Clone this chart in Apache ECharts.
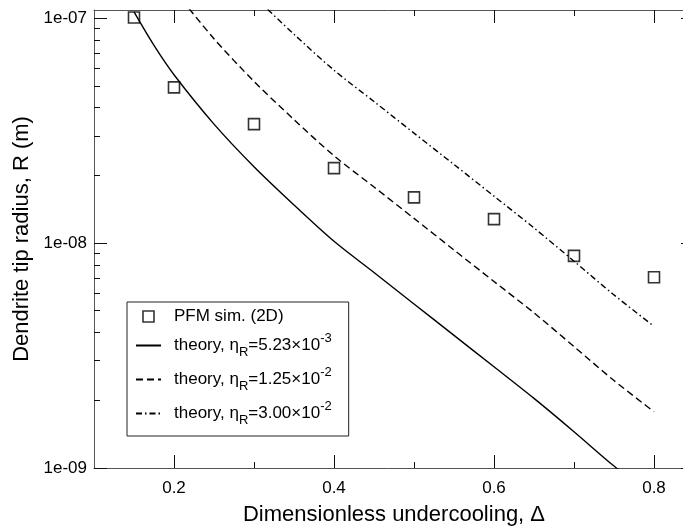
<!DOCTYPE html>
<html>
<head>
<meta charset="utf-8">
<script src="https://cdn.jsdelivr.net/npm/echarts@6/dist/echarts.min.js"></script>
<style>
  html, body { margin: 0; padding: 0; background: #fff; }
  #chart { width: 683px; height: 529px; }
</style>
</head>
<body>
<div id="chart"></div>
<script>
// PFM 模拟点
const deltaSim = [0.15, 0.2, 0.3, 0.4, 0.5, 0.6, 0.7, 0.8];
const radiusSim = [1.01e-7, 4.94e-8, 3.39e-8, 2.16e-8, 1.60e-8, 1.28e-8, 8.79e-9, 7.06e-9];

// 理论曲线
const deltaTheory = [0.15, 0.175, 0.2, 0.25, 0.3, 0.35, 0.4, 0.45, 0.5, 0.55, 0.6, 0.65, 0.7, 0.75, 0.8];
const radiusEta1 = [1.07e-7, 7.59e-8, 5.62e-8, 3.39e-8, 2.19e-8, 1.48e-8, 1.02e-8, 7.41e-9, 5.37e-9, 3.89e-9, 2.82e-9, 2.04e-9, 1.45e-9, 1.02e-9, 7.41e-10];
const radiusEta2 = [2.57e-7, 1.82e-7, 1.35e-7, 8.13e-8, 5.25e-8, 3.55e-8, 2.45e-8, 1.78e-8, 1.29e-8, 9.33e-9, 6.76e-9, 4.90e-9, 3.47e-9, 2.45e-9, 1.78e-9];
const radiusEta3 = [6.17e-7, 4.37e-7, 3.24e-7, 1.95e-7, 1.26e-7, 8.51e-8, 5.89e-8, 4.27e-8, 3.09e-8, 2.24e-8, 1.62e-8, 1.17e-8, 8.32e-9, 5.89e-9, 4.27e-9];

// 刻度
const xMajorTicks = [0.2, 0.4, 0.6, 0.8];
const xMinorTicks = [0.3, 0.5, 0.7];
const yMajorTicks = [1e-9, 1e-8, 1e-7];
const yMinorTicks = [2e-9, 3e-9, 4e-9, 5e-9, 6e-9, 7e-9, 8e-9, 9e-9, 2e-8, 3e-8, 4e-8, 5e-8, 6e-8, 7e-8, 8e-8, 9e-8];

const seriesNames = ["PFM sim. (2D)", "theory, ηR=5.23×10-3", "theory, ηR=1.25×10-2", "theory, ηR=3.00×10-2"];
const legendLabels = [
  "{t|PFM sim. (2D)}",
  "{t|theory, η}{s|R}{t|=5.23×10}{p|-3}",
  "{t|theory, η}{s|R}{t|=1.25×10}{p|-2}",
  "{t|theory, η}{s|R}{t|=3.00×10}{p|-2}",
];

const xMin = 0.1, xMax = 0.85;
const yMin = 1e-9, yMax = 1.091e-7;

const font = '"Liberation Sans", Arial, sans-serif';
const axisColor = "#555";

const zip = (xs, ys) => xs.map((x, i) => [x, ys[i]]);

function xAxis(position, main) {
  return {
    type: "value",
    position,
    min: xMin,
    max: xMax,
    axisLine: { show: true, onZero: false, lineStyle: { color: axisColor } },
    axisTick: { show: false },
    axisLabel: {
      show: main,
      customValues: xMajorTicks,
      formatter: (v) => v.toFixed(1),
      color: "#000",
      fontSize: 17,
      fontFamily: font,
      margin: 12,
    },
    splitLine: { show: false },
  };
}

function yAxis(position, main) {
  return {
    type: "log",
    logBase: 10,
    position,
    min: yMin,
    max: yMax,
    axisLine: { show: true, onZero: false, lineStyle: { color: axisColor } },
    axisTick: { show: false },
    axisLabel: {
      show: main,
      customValues: yMajorTicks,
      formatter: (v) => "1e-" + String(-Math.round(Math.log10(v))).padStart(2, "0"),
      color: "#000",
      fontSize: 17,
      fontFamily: font,
      margin: 7,
    },
    splitLine: { show: false },
  };
}

const xBottom = xAxis("bottom", true);
xBottom.name = "Dimensionless undercooling, Δ";
xBottom.nameLocation = "middle";
xBottom.nameGap = 36;
xBottom.nameTextStyle = { color: "#000", fontSize: 22, fontFamily: font };

const yLeft = yAxis("left", true);
yLeft.name = "Dendrite tip radius, R (m)";
yLeft.nameLocation = "middle";
yLeft.nameGap = 50;
yLeft.nameTextStyle = { color: "#000", fontSize: 22, fontFamily: font };

// 刻度线：位置由坐标轴换算，画在四条边的内侧
function tickSeries(dir, values, len) {
  return {
    type: "custom",
    silent: true,
    clip: false,
    z: 6,
    xAxisIndex: 0,
    yAxisIndex: 0,
    data: values.map((v) => (dir === "x" ? [v, yMin] : [xMin, v])),
    renderItem: (params, api) => {
      const style = { fill: "#111" };
      if (dir === "x") {
        const v = api.value(0);
        const b = api.coord([v, yMin]);
        const t = api.coord([v, yMax]);
        const x = Math.floor(b[0]);
        return {
          type: "group",
          children: [
            { type: "rect", shape: { x, y: b[1] - len, width: 1, height: len }, style },
            { type: "rect", shape: { x, y: t[1], width: 1, height: len }, style },
          ],
        };
      }
      const v = api.value(1);
      const l = api.coord([xMin, v]);
      const r = api.coord([xMax, v]);
      const y = Math.floor(l[1]);
      return {
        type: "group",
        children: [
          { type: "rect", shape: { x: l[0], y, width: len, height: 1 }, style },
          { type: "rect", shape: { x: r[0] - len, y, width: len, height: 1 }, style },
        ],
      };
    },
  };
}

const lineBase = { type: "line", symbol: "none", showSymbol: false, smooth: 0.3 };
const hideDot = { color: "rgba(0,0,0,0)", borderColor: "rgba(0,0,0,0)", borderWidth: 0, opacity: 0 };

const options = {
  animation: false,
  grid: { left: 94, right: -11, top: 10, bottom: 61, containLabel: false, outerBoundsMode: "none" },
  xAxis: [xBottom, xAxis("top", false)],
  yAxis: [yLeft, yAxis("right", false)],
  legend: {
    orient: "vertical",
    left: 127,
    top: 302,
    padding: [6, 17, 9, 8],
    itemGap: 7,
    itemWidth: 25,
    itemHeight: 11,
    backgroundColor: "#fff",
    borderColor: "#222",
    borderWidth: 1,
    borderRadius: 0,
    selectedMode: false,
    data: [
      { name: seriesNames[0], icon: "path://M0,0L10,0L10,10L0,10Z", itemStyle: { color: "rgba(0,0,0,0)", borderColor: "#000", borderWidth: 1.6 } },
      { name: seriesNames[1], itemStyle: hideDot },
      { name: seriesNames[2], itemStyle: hideDot },
      { name: seriesNames[3], itemStyle: hideDot },
    ],
    formatter: (name) => legendLabels[seriesNames.indexOf(name)],
    textStyle: {
      color: "#000",
      fontFamily: font,
      fontSize: 17,
      padding: [0, 0, 0, 8],
      rich: {
        t: { fontFamily: font, fontSize: 17, lineHeight: 27, color: "#000" },
        s: { fontFamily: font, fontSize: 13, lineHeight: 13, verticalAlign: "bottom", color: "#000" },
        p: { fontFamily: font, fontSize: 13, lineHeight: 15, verticalAlign: "top", color: "#000" },
      },
    },
  },
  series: [
    {
      name: seriesNames[0],
      type: "scatter",
      data: zip(deltaSim, radiusSim),
      symbol: "rect",
      symbolSize: 11,
      itemStyle: { color: "rgba(0,0,0,0)", borderColor: "#000", borderWidth: 1.6 },
      z: 5,
    },
    { ...lineBase, name: seriesNames[1], data: zip(deltaTheory, radiusEta1), lineStyle: { color: "#000", width: 1.4, type: "solid" }, itemStyle: { color: "#000" } },
    { ...lineBase, name: seriesNames[2], data: zip(deltaTheory, radiusEta2), lineStyle: { color: "#000", width: 1.4, type: [7, 4] }, itemStyle: { color: "#000" } },
    { ...lineBase, name: seriesNames[3], data: zip(deltaTheory, radiusEta3), lineStyle: { color: "#000", width: 1.4, type: [6, 3, 1.5, 3] }, itemStyle: { color: "#000" } },
    tickSeries("x", xMajorTicks, 13),
    tickSeries("x", xMinorTicks, 6),
    tickSeries("y", yMajorTicks, 13),
    tickSeries("y", yMinorTicks, 6),
  ],
};

const chart = echarts.init(document.getElementById("chart"));
chart.setOption(options);

window.addEventListener("resize", () => {
  chart.resize();
});
</script>
</body>
</html>
